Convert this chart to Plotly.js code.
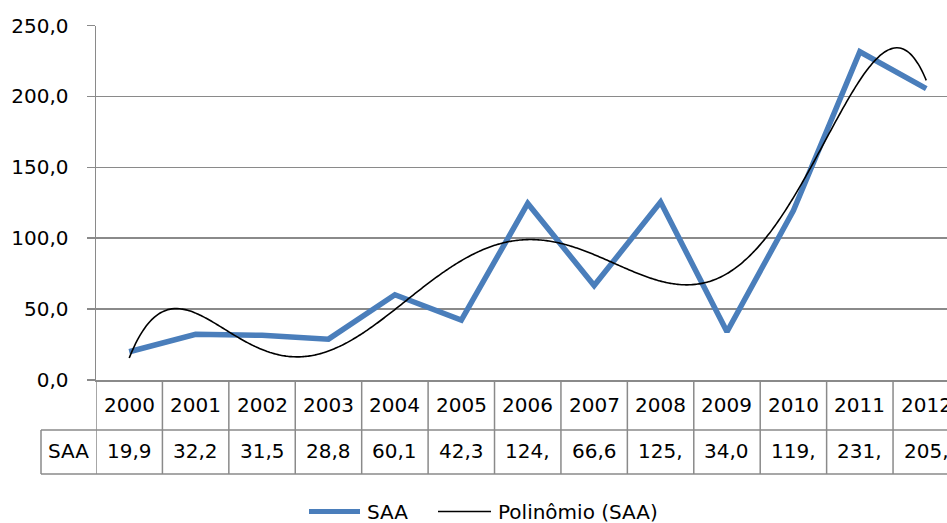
<!DOCTYPE html>
<html>
<head>
<meta charset="utf-8">
<script src="https://cdn.plot.ly/plotly-3.0.1.min.js"></script>
<style>
  html, body { margin: 0; padding: 0; background: #ffffff; }
  #chart { width: 947px; height: 523px; }
</style>
</head>
<body>
<div id="chart"></div>
<script>
// ---- data ----
const years = ['2000','2001','2002','2003','2004','2005','2006','2007','2008','2009','2010','2011','2012'];
const saa = [19.9, 32.2, 31.5, 28.8, 60.1, 42.3, 124.5, 66.6, 125.5, 34.0, 119.5, 231.5, 205.5];
const seriesName = 'SAA';
const trendName = 'Polinômio (SAA)';
const trendDegree = 6;
const yTicks = [0, 50, 100, 150, 200, 250];

// ---- polynomial least-squares trendline (as Excel does) ----
function polyfit(xs, ys, deg) {
  const n = deg + 1;
  const m = (xs[0] + xs[xs.length - 1]) / 2;
  const s = (xs[xs.length - 1] - xs[0]) / 2;
  const A = Array.from({length: n}, () => new Array(n + 1).fill(0));
  for (let k = 0; k < xs.length; k++) {
    const t = (xs[k] - m) / s;
    const p = [];
    for (let i = 0; i < n; i++) p.push(Math.pow(t, i));
    for (let i = 0; i < n; i++) {
      for (let j = 0; j < n; j++) A[i][j] += p[i] * p[j];
      A[i][n] += p[i] * ys[k];
    }
  }
  for (let c = 0; c < n; c++) {
    let piv = c;
    for (let r = c + 1; r < n; r++) if (Math.abs(A[r][c]) > Math.abs(A[piv][c])) piv = r;
    [A[c], A[piv]] = [A[piv], A[c]];
    for (let r = 0; r < n; r++) {
      if (r === c) continue;
      const f = A[r][c] / A[c][c];
      for (let j = c; j <= n; j++) A[r][j] -= f * A[c][j];
    }
  }
  const coef = A.map((row, i) => row[n] / row[i]);
  return x => {
    const t = (x - m) / s;
    let v = 0;
    for (let i = n - 1; i >= 0; i--) v = v * t + coef[i];
    return v;
  };
}

const xIdx = years.map((_, i) => i);
const fit = polyfit(xIdx, saa, trendDegree);
const trendX = [];
for (let x = 0; x <= years.length - 1 + 1e-9; x += 0.04) trendX.push(x);
const trendY = trendX.map(fit);

// ---- layout geometry (pixels) ----
const W = 947, H = 523;
const plotL = 96, plotT = 25.5, plotB = 380;
const catW = 66.42;
const px = v => v / W;
const py = v => 1 - v / H;
const gridCol = '#8a8a8a';
const font = 'DejaVu Sans, sans-serif';
const txtCol = '#000000';

const row1Bot = 430, row2Bot = 474;

const shapes = [];
const annotations = [];

// table vertical lines at category boundaries
for (let k = 0; k <= years.length; k++) {
  const xb = k - 0.5;
  shapes.push({type: 'line', xref: 'x', yref: 'paper', x0: xb, x1: xb,
    y0: py(plotB), y1: py(row2Bot), line: {color: gridCol, width: 1.5}});
}
// table horizontal lines
shapes.push({type: 'line', xref: 'paper', yref: 'paper', x0: px(41), x1: 1,
  y0: py(row1Bot), y1: py(row1Bot), line: {color: gridCol, width: 1.5}});
shapes.push({type: 'line', xref: 'paper', yref: 'paper', x0: px(41), x1: 1,
  y0: py(row2Bot), y1: py(row2Bot), line: {color: gridCol, width: 1.5}});
shapes.push({type: 'line', xref: 'paper', yref: 'paper', x0: px(41), x1: px(41),
  y0: py(row1Bot), y1: py(row2Bot), line: {color: gridCol, width: 1.5}});

// table texts
const fmt = v => v.toFixed(1).replace('.', ',').slice(0, 4);
years.forEach((yr, i) => {
  annotations.push({xref: 'x', yref: 'paper', x: i, y: py(405), text: yr, showarrow: false,
    xanchor: 'center', yanchor: 'middle', font: {family: font, size: 20, color: txtCol}});
  annotations.push({xref: 'x', yref: 'paper', x: i, y: py(451), text: fmt(saa[i]), showarrow: false,
    xanchor: 'center', yanchor: 'middle', font: {family: font, size: 20, color: txtCol}});
});
annotations.push({xref: 'paper', yref: 'paper', x: px(68.5), y: py(451), text: seriesName, showarrow: false,
  xanchor: 'center', yanchor: 'middle', font: {family: font, size: 20, color: txtCol}});

// legend (drawn manually)
const legY = 511.5;
shapes.push({type: 'line', xref: 'paper', yref: 'paper', x0: px(309), x1: px(360),
  y0: py(legY), y1: py(legY), line: {color: '#4A7EBB', width: 5}});
annotations.push({xref: 'paper', yref: 'paper', x: px(365), y: py(legY), text: seriesName, showarrow: false,
  xanchor: 'left', yanchor: 'middle', font: {family: font, size: 20, color: txtCol}});
shapes.push({type: 'line', xref: 'paper', yref: 'paper', x0: px(438), x1: px(491),
  y0: py(legY), y1: py(legY), line: {color: '#000000', width: 1.5}});
annotations.push({xref: 'paper', yref: 'paper', x: px(496), y: py(legY), text: trendName, showarrow: false,
  xanchor: 'left', yanchor: 'middle', font: {family: font, size: 20, color: txtCol}});

const traces = [
  {x: xIdx, y: saa, type: 'scatter', mode: 'lines', name: seriesName,
   line: {color: '#4A7EBB', width: 5.5, shape: 'linear'}, hoverinfo: 'skip'},
  {x: trendX, y: trendY, type: 'scatter', mode: 'lines', name: trendName,
   line: {color: '#000000', width: 1.6, shape: 'spline', smoothing: 0.5}, hoverinfo: 'skip'}
];

const layout = {
  width: W, height: H,
  margin: {l: 0, r: 0, t: 0, b: 0},
  paper_bgcolor: '#ffffff', plot_bgcolor: '#ffffff',
  showlegend: false,
  separators: ',.',
  xaxis: {
    domain: [px(plotL), 1],
    range: [-0.5, -0.5 + (W - plotL) / catW],
    showgrid: false, zeroline: false, showticklabels: false, ticks: '',
    showline: true, linecolor: gridCol, linewidth: 1.5, fixedrange: true
  },
  yaxis: {
    domain: [py(plotB), py(plotT)],
    range: [0, 250],
    tickvals: yTicks, tickformat: '.1f',
    showgrid: true, gridcolor: gridCol, gridwidth: 1.5,
    zeroline: false,
    showline: true, linecolor: gridCol, linewidth: 1.5,
    ticks: 'outside', ticklen: 8, tickcolor: gridCol, tickwidth: 1.5,
    ticklabelstandoff: 14,
    tickfont: {family: font, size: 20, color: txtCol},
    fixedrange: true
  },
  shapes: shapes,
  annotations: annotations
};

Plotly.newPlot('chart', traces, layout, {staticPlot: true, displayModeBar: false});
</script>
</body>
</html>
